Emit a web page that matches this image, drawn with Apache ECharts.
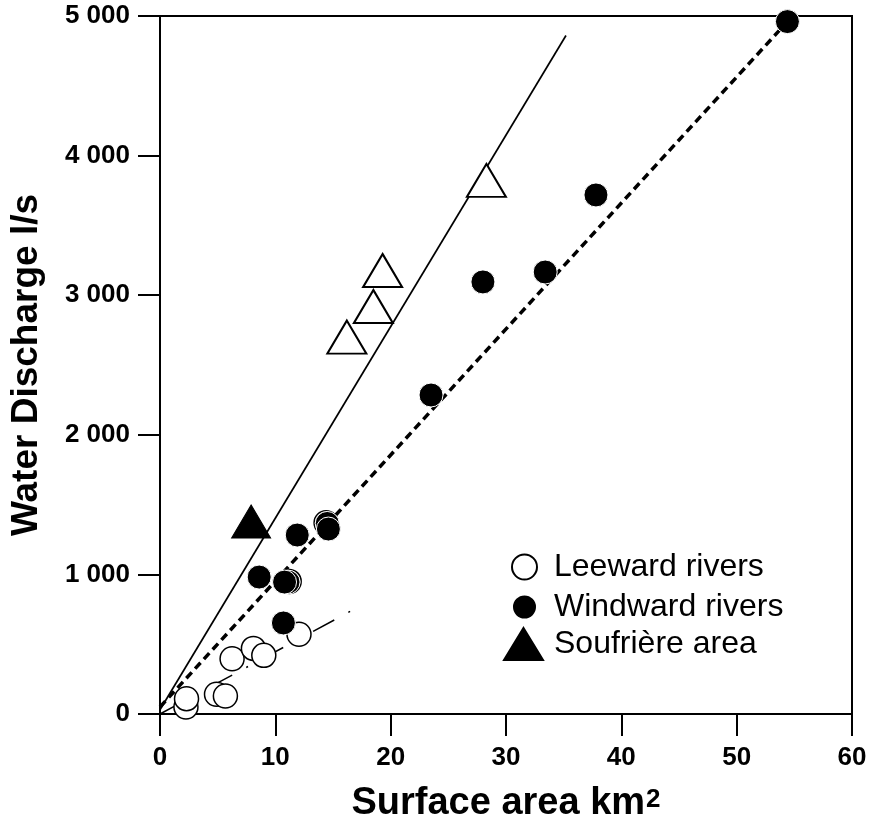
<!DOCTYPE html>
<html>
<head>
<meta charset="utf-8">
<script src="https://cdn.jsdelivr.net/npm/echarts@6/dist/echarts.min.js"></script>
<style>
html,body{margin:0;padding:0;background:#fff;}
#chart{width:871px;height:821px;}
</style>
</head>
<body>
<div id="chart"></div>
<script>
// ---- Data ----
var xTicks = [0, 10, 20, 30, 40, 50, 60];
var yTicks = [0, 1000, 2000, 3000, 4000, 5000];

var leewardRivers = [
  [2.25, 50], [2.3, 110], [4.9, 141], [5.67, 129], [6.25, 396],
  [8.1, 470], [9.0, 420], [12.05, 571], [14.4, 1370], [11.2, 950]
];
var windwardRivers = [
  [54.4, 4960], [37.8, 3718], [33.4, 3166], [28.0, 3095], [23.5, 2285],
  [14.5, 1365], [14.6, 1325], [11.9, 1282], [8.6, 981], [11.1, 945],
  [10.8, 945], [10.7, 652]
];
var soufriereArea = [[7.9, 1379]];
var otherTriangles = [[28.3, 3822], [19.3, 3177], [18.5, 2919], [16.2, 2700]];

var fitSteep = [[0, 30], [35.2, 4860]];
var fitWindward = [[0, 50], [54.4, 4960]];
var fitLeeward = [[0, 0], [17.5, 780]];

var seriesNames = ['Leeward rivers', 'Windward rivers', 'Soufrière area'];

// ---- Chart ----
var FONT = '"Liberation Sans", Arial, Helvetica, sans-serif';
var chart = echarts.init(document.getElementById('chart'), null, {renderer: 'canvas'});

function yFmt(v) {
  return v === 0 ? '0' : (v / 1000) + ' 000';
}

var legendText = {fontFamily: FONT, fontSize: 32, color: '#000', lineHeight: 32};

var option = {
  animation: false,
  backgroundColor: '#fff',
  grid: {
    left: 160, right: 19, top: 16, bottom: 107,
    outerBoundsMode: 'none', containLabel: false,
    show: true, borderColor: '#000', borderWidth: 2, backgroundColor: 'transparent'
  },
  xAxis: {
    type: 'value', min: xTicks[0], max: xTicks[xTicks.length - 1], interval: 10,
    name: 'Surface area km{sup|2}',
    nameLocation: 'middle', nameGap: 71,
    nameTextStyle: {
      fontFamily: FONT, fontSize: 38, fontWeight: 'bold', color: '#000',
      verticalAlign: 'top',
      rich: {
        sup: {fontFamily: FONT, fontSize: 26, fontWeight: 'bold', color: '#000', verticalAlign: 'top', padding: [2, 0, 0, 1]}
      }
    },
    axisLine: {show: true, onZero: false, lineStyle: {color: '#000', width: 2}},
    axisTick: {show: true, inside: false, length: 22, lineStyle: {color: '#000', width: 2}},
    axisLabel: {fontFamily: FONT, fontSize: 26, fontWeight: 'bold', color: '#000', margin: 31},
    splitLine: {show: false}
  },
  yAxis: {
    type: 'value', min: yTicks[0], max: yTicks[yTicks.length - 1], interval: 1000,
    name: 'Water Discharge l/s',
    nameLocation: 'middle', nameGap: 115,
    nameTextStyle: {fontFamily: FONT, fontSize: 37, fontWeight: 'bold', color: '#000'},
    axisLine: {show: true, onZero: false, lineStyle: {color: '#000', width: 2}},
    axisTick: {show: true, inside: false, length: 22, lineStyle: {color: '#000', width: 2}},
    axisLabel: {fontFamily: FONT, fontSize: 26, fontWeight: 'bold', color: '#000', margin: 30, formatter: yFmt},
    splitLine: {show: false}
  },
  legend: [
    {
      data: [seriesNames[0]], orient: 'vertical', left: 506, top: 546, padding: 5,
      itemWidth: 25, itemHeight: 25,
      textStyle: Object.assign({padding: [0, 0, 0, 12]}, legendText)
    },
    {
      data: [seriesNames[1]], orient: 'vertical', left: 506, top: 586, padding: 5,
      itemWidth: 25, itemHeight: 25,
      textStyle: Object.assign({padding: [0, 0, 0, 12]}, legendText)
    },
    {
      data: [seriesNames[2]], orient: 'vertical', left: 498, top: 622, padding: 5,
      itemWidth: 39, itemHeight: 32, symbolKeepAspect: false,
      textStyle: Object.assign({padding: [0, 0, 0, 6]}, legendText)
    }
  ],
  series: [
    {
      type: 'line', data: fitSteep, symbol: 'none', silent: true, z: 1,
      lineStyle: {color: '#000', width: 1.7, type: 'solid'}
    },
    {
      type: 'line', data: fitWindward, symbol: 'none', silent: true, z: 1,
      lineStyle: {color: '#000', width: 3.5, type: [8, 5]}
    },
    {
      type: 'line', data: fitLeeward, symbol: 'none', silent: true, z: 1,
      lineStyle: {color: '#000', width: 1.5, type: [24, 16, 2, 16]}
    },
    {
      name: 'triangles', type: 'scatter', data: otherTriangles, z: 3,
      symbol: 'triangle', symbolSize: [39, 33],
      itemStyle: {color: '#fff', borderColor: '#000', borderWidth: 2, opacity: 1}
    },
    {
      name: seriesNames[0], type: 'scatter', data: leewardRivers, z: 4,
      symbol: 'circle', symbolSize: 24,
      itemStyle: {color: '#fff', borderColor: '#000', borderWidth: 1.5, opacity: 1}
    },
    {
      name: seriesNames[1], type: 'scatter', data: windwardRivers, z: 5,
      symbol: 'circle', symbolSize: 24,
      itemStyle: {color: '#000', borderColor: '#fff', borderWidth: 1, opacity: 1}
    },
    {
      name: seriesNames[2], type: 'scatter', data: soufriereArea, z: 5,
      symbol: 'triangle', symbolSize: [39, 33],
      itemStyle: {color: '#000', borderColor: '#000', borderWidth: 1, opacity: 1}
    }
  ]
};
chart.setOption(option);
</script>
</body>
</html>
